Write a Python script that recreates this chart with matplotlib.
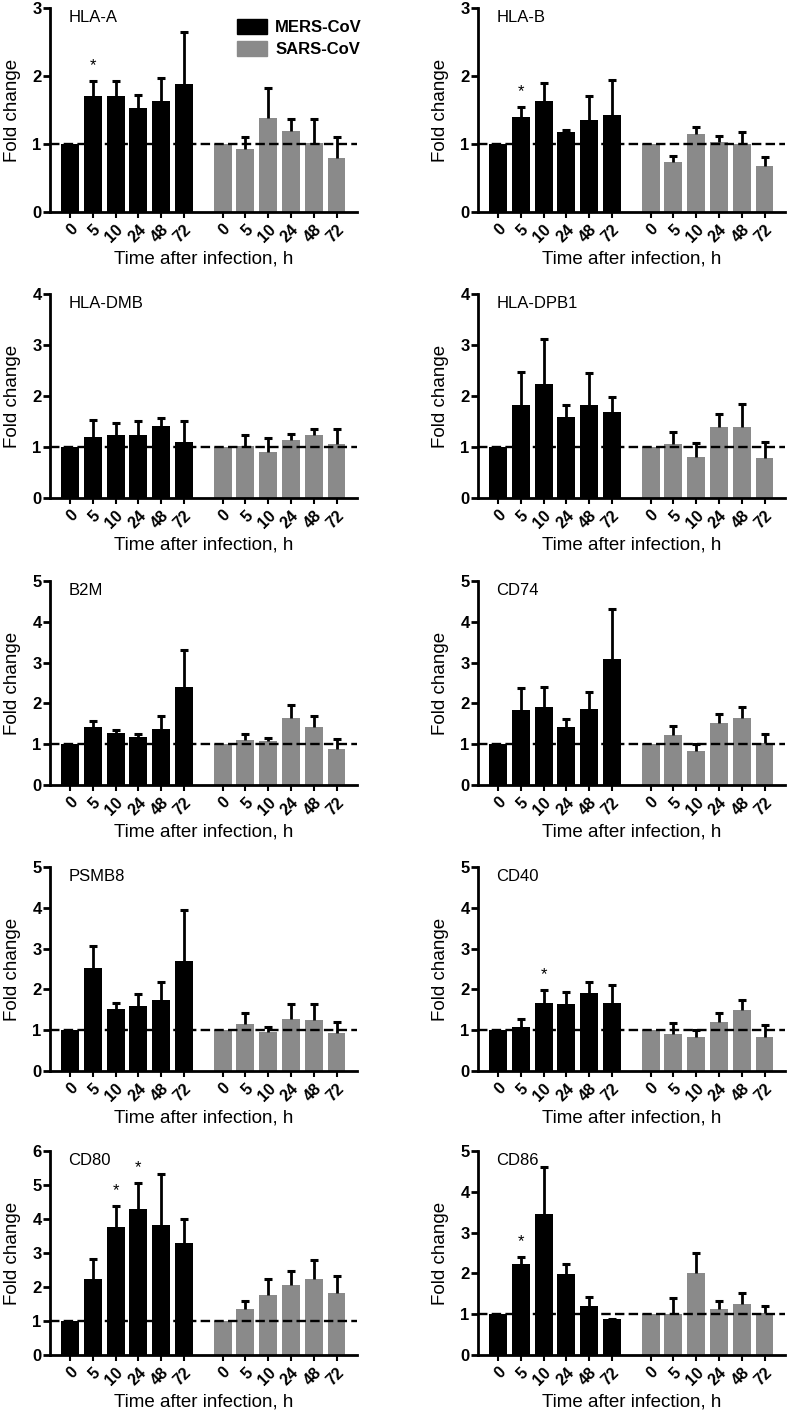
import numpy as np
import matplotlib
matplotlib.use("Agg")
import matplotlib.pyplot as plt
from matplotlib.patches import Patch

plt.rcParams['font.family'] = ['Liberation Sans', 'DejaVu Sans']

# data (fold change, upper error = SEM)
genes = ['HLA-A', 'HLA-B', 'HLA-DMB', 'HLA-DPB1', 'B2M',
         'CD74', 'PSMB8', 'CD40', 'CD80', 'CD86']
y_max = [3, 3, 4, 4, 5, 5, 5, 5, 6, 5]
hours = ['0', '5', '10', '24', '48', '72']

mers_mean = [[1, 1.71, 1.70, 1.53, 1.63, 1.88],
             [1, 1.39, 1.63, 1.17, 1.35, 1.42],
             [1, 1.19, 1.23, 1.23, 1.42, 1.09],
             [1, 1.82, 2.23, 1.59, 1.82, 1.69],
             [1, 1.43, 1.27, 1.17, 1.38, 2.41],
             [1, 1.84, 1.90, 1.43, 1.87, 3.08],
             [1, 2.53, 1.52, 1.60, 1.74, 2.69],
             [1, 1.08, 1.67, 1.63, 1.90, 1.67],
             [1, 2.24, 3.76, 4.28, 3.81, 3.29],
             [1, 2.22, 3.46, 1.98, 1.20, 0.88]]
mers_err = [[0, 0.21, 0.23, 0.19, 0.34, 0.76],
            [0, 0.15, 0.26, 0.03, 0.36, 0.52],
            [0, 0.33, 0.24, 0.28, 0.15, 0.41],
            [0, 0.66, 0.88, 0.24, 0.64, 0.30],
            [0, 0.14, 0.09, 0.07, 0.31, 0.91],
            [0, 0.53, 0.51, 0.18, 0.42, 1.23],
            [0, 0.53, 0.15, 0.28, 0.45, 1.25],
            [0, 0.19, 0.31, 0.30, 0.28, 0.43],
            [0, 0.59, 0.62, 0.77, 1.50, 0.70],
            [0, 0.17, 1.15, 0.25, 0.21, 0.01]]
sars_mean = [[1, 0.93, 1.38, 1.19, 1.02, 0.79],
             [1, 0.73, 1.14, 1.03, 1.00, 0.67],
             [1, 1.01, 0.90, 1.14, 1.23, 1.06],
             [1, 1.06, 0.80, 1.40, 1.40, 0.78],
             [1, 1.11, 1.08, 1.65, 1.43, 0.88],
             [1, 1.22, 0.83, 1.53, 1.64, 1.03],
             [1, 1.14, 0.96, 1.27, 1.25, 0.92],
             [1, 0.90, 0.83, 1.20, 1.50, 0.84],
             [1, 1.36, 1.77, 2.07, 2.23, 1.82],
             [1, 1.00, 2.00, 1.13, 1.25, 1.02]]
sars_err = [[0, 0.17, 0.45, 0.18, 0.35, 0.32],
            [0, 0.10, 0.11, 0.09, 0.18, 0.14],
            [0, 0.22, 0.27, 0.12, 0.13, 0.29],
            [0, 0.23, 0.27, 0.25, 0.45, 0.32],
            [0, 0.14, 0.08, 0.31, 0.27, 0.25],
            [0, 0.22, 0.17, 0.22, 0.28, 0.23],
            [0, 0.29, 0.12, 0.38, 0.40, 0.29],
            [0, 0.27, 0.17, 0.21, 0.23, 0.28],
            [0, 0.24, 0.46, 0.39, 0.57, 0.50],
            [0, 0.39, 0.50, 0.19, 0.26, 0.18]]
# significant MERS time points (index into hours)
stars = [[1], [1], [], [], [], [], [], [2], [2, 3], [1]]

black = '#000000'
grey = '#8a8a8a'

W, H = 788, 1416
fig = plt.figure(figsize=(W / 100, H / 100), dpi=100)

col_left = [50, 478]
row_top = [8, 294, 581, 867, 1151]
ax_w, ax_h = 307, 204

x_mers = np.arange(6)
x_sars = np.arange(6) + 6.7
x_all = np.concatenate([x_mers, x_sars])


def upper_err(ax, x, mean, err):
    x = np.asarray(x)
    mean = np.asarray(mean)
    err = np.asarray(err)
    keep = err > 0
    eb = ax.errorbar(x[keep], mean[keep], yerr=[np.zeros(keep.sum()), err[keep]],
                     fmt='none', ecolor='black', elinewidth=2, capsize=2.8,
                     capthick=2.2, zorder=4)
    eb[1][0].set_visible(False)   # hide lower caps


for i, g in enumerate(genes):
    r, c = divmod(i, 2)
    left = col_left[c] / W
    bottom = 1 - (row_top[r] + ax_h) / H
    ax = fig.add_axes([left, bottom, ax_w / W, ax_h / H])

    ax.bar(x_mers, mers_mean[i], width=0.79, color=black, zorder=2)
    ax.bar(x_sars, sars_mean[i], width=0.79, color=grey, zorder=2)
    upper_err(ax, x_mers, mers_mean[i], mers_err[i])
    upper_err(ax, x_sars, sars_mean[i], sars_err[i])
    ax.axhline(1, color='black', lw=1.7, ls=(0, (4, 1.8)), zorder=3)

    for k in stars[i]:
        ax.annotate('*', (x_mers[k], mers_mean[i][k] + mers_err[i][k]),
                    xytext=(0, 6), textcoords='offset points',
                    ha='center', va='bottom', fontsize=12)

    ax.set_xlim(-0.88, 12.6)
    ax.set_ylim(0, y_max[i])
    ax.set_yticks(range(y_max[i] + 1))
    ax.set_xticks(x_all)
    ax.set_xticklabels(hours + hours, rotation=45, ha='right',
                       rotation_mode='anchor', fontweight='bold', fontsize=11.5)
    for lab in ax.get_yticklabels():
        lab.set_fontweight('bold')
        lab.set_fontsize(12)

    ax.spines['top'].set_visible(False)
    ax.spines['right'].set_visible(False)
    ax.spines['left'].set_linewidth(2)
    ax.spines['bottom'].set_linewidth(2)
    ax.tick_params(axis='y', length=5, width=2, pad=1)
    ax.tick_params(axis='x', length=4, width=1.5, pad=3)

    ax.set_ylabel('Fold change', fontsize=13.5, labelpad=8)
    ax.set_xlabel('Time after infection, h', fontsize=13.5, labelpad=4)
    ax.text(0.06, 0.99, g, transform=ax.transAxes, fontsize=12,
            ha='left', va='top')

    if i == 0:
        handles = [Patch(color=black, label='MERS-CoV'),
                   Patch(color=grey, label='SARS-CoV')]
        ax.legend(handles=handles, loc='upper left', bbox_to_anchor=(0.56, 1.02),
                  frameon=False, prop={'weight': 'bold', 'size': 12},
                  handlelength=1.8, handleheight=1.0, labelspacing=0.35,
                  handletextpad=0.5)

fig.savefig('out.png', dpi=100)
